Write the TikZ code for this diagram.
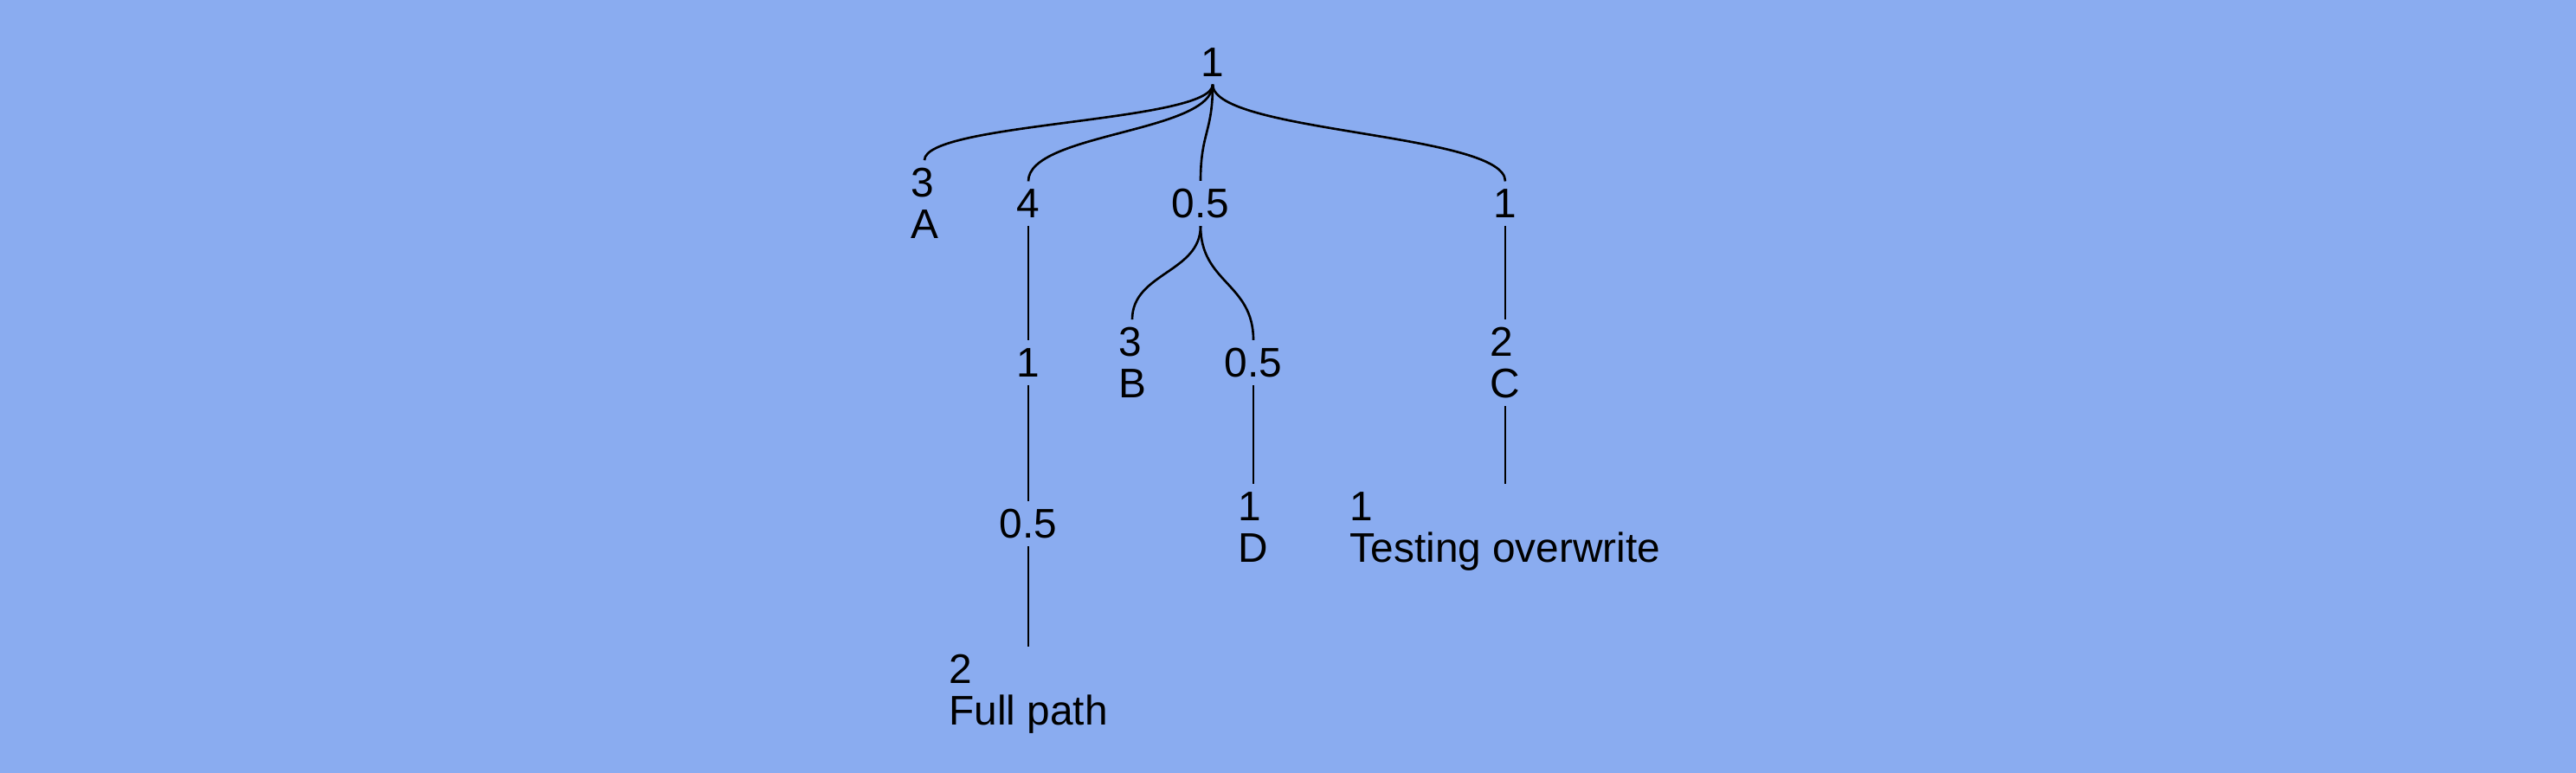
\documentclass[tikz,border=0pt]{standalone}
\usepackage{fontspec}
\setmainfont{Liberation Sans}
\usetikzlibrary{calc}
\definecolor{bgblue}{HTML}{8AACF0}
\tikzset{
  wt/.style={font=\fontsize{13.6}{13.7}\selectfont, align=left, inner sep=2.4pt},
  link/.style={line width=0.75pt}
}

\begin{document}
\begin{tikzpicture}
  \def\W{29.76}   % page width
  \def\H{8.93}    % page height
  % levels of the tree
  \def\la{-0.72}
  \def\lb{-2.35}
  \def\lc{-4.19}
  \def\ld{-6.05}
  \def\le{-7.93}
  % background
  \fill[bgblue] (0,0) rectangle (\W,-\H);
  \useasboundingbox (0,0) rectangle (\W,-\H);
  % nodes
  \node[wt] (root) at (14.01,\la) {1};
  \node[wt] (a)    at (10.68,\lb) {3\\A};
  \node[wt] (w4)   at (11.88,\lb) {4};
  \node[wt] (h1)   at (13.87,\lb) {0.5};
  \node[wt] (c1)   at (17.39,\lb) {1};
  \node[wt] (w1)   at (11.88,\lc) {1};
  \node[wt] (b)    at (13.08,\lc) {3\\B};
  \node[wt] (h2)   at (14.48,\lc) {0.5};
  \node[wt] (c)    at (17.39,\lc) {2\\C};
  \node[wt] (h3)   at (11.88,\ld) {0.5};
  \node[wt] (d)    at (14.48,\ld-0.04) {1\\D};
  \node[wt] (t)    at (17.39,\ld-0.09) {1\\Testing overwrite};
  \node[wt] (f)    at (11.88,\le-0.09) {2\\Full path};
  % links
  \foreach \pa/\ch in {root/a, root/w4, root/h1, root/c1, w4/w1, w1/h3, h3/f,
                       h1/b, h1/h2, h2/d, c1/c, c/t}{
    \draw[link] let \p1=(\pa.south), \p2=(\ch.north) in
      (\p1) .. controls (\x1,{0.5*\y1+0.5*\y2}) and (\x2,{0.5*\y1+0.5*\y2}) .. (\p2);
  }
\end{tikzpicture}
\end{document}
